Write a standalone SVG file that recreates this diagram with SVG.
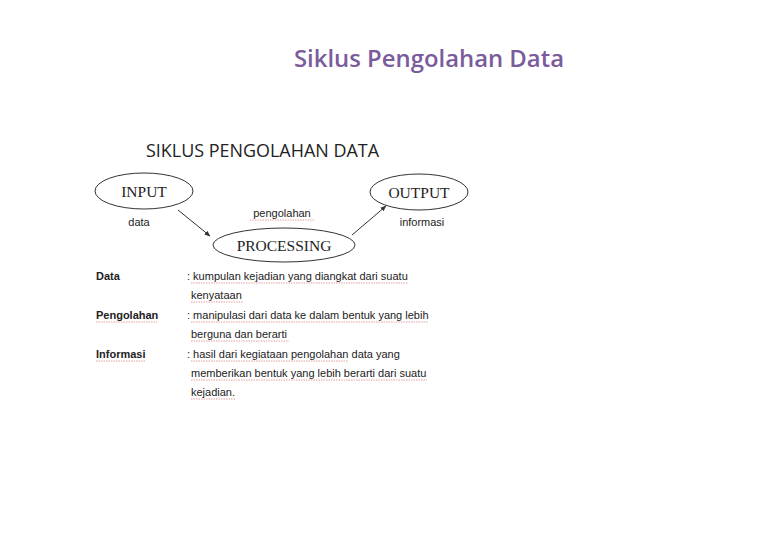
<svg xmlns="http://www.w3.org/2000/svg" width="780" height="540" viewBox="0 0 780 540">
<style>
.t{font-family:"Liberation Sans",Arial,sans-serif;font-size:11px;fill:#222}
.b{font-weight:bold}
.e{fill:none;stroke:#333;stroke-width:1}
.s{font-family:"Liberation Serif","Times New Roman",serif;font-size:15.5px;fill:#222}
.c{stroke:#333;stroke-width:1;fill:none}
.u{stroke:#d88;stroke-width:0.8;stroke-dasharray:1.5 1;fill:none}
</style>
<defs>
<marker id="ah" viewBox="0 0 10 10" refX="9" refY="5" markerWidth="6" markerHeight="6" orient="auto"><path d="M0,1 L10,5 L0,9 z" fill="#333"/></marker>
</defs>
<rect width="780" height="540" fill="#fff"/>
<text x="294" y="67" font-family="'Open Sans',sans-serif" font-size="23" font-weight="600" fill="#7a5c9c" textLength="270" lengthAdjust="spacingAndGlyphs">Siklus Pengolahan Data</text>
<text x="146" y="157" font-family="'Open Sans',sans-serif" font-size="18" fill="#222" textLength="233" lengthAdjust="spacingAndGlyphs">SIKLUS PENGOLAHAN DATA</text>
<g id="input"><ellipse class="e" cx="144" cy="191" rx="49" ry="18"/><text class="s" x="144" y="197" text-anchor="middle">INPUT</text></g>
<g id="output"><ellipse class="e" cx="419" cy="192" rx="49" ry="18"/><text class="s" x="419" y="198" text-anchor="middle">OUTPUT</text></g>
<g id="processing"><ellipse class="e" cx="284" cy="245" rx="71" ry="17"/><text class="s" x="284" y="251" text-anchor="middle">PROCESSING</text></g>
<g id="connectors">
<line class="c" x1="178" y1="210" x2="210" y2="236" marker-end="url(#ah)"/>
<line class="c" x1="352" y1="235" x2="386" y2="206" marker-end="url(#ah)"/>
</g>
<text class="t" x="139" y="226" text-anchor="middle">data</text>
<text class="t" x="282" y="217" text-anchor="middle">pengolahan</text>
<text class="t" x="422" y="226" text-anchor="middle">informasi</text>
<path class="u" d="M250,220 H314"/>
<g id="defs-text">
<text class="t b" x="96" y="280">Data</text>
<text class="t" x="187" y="280">: kumpulan kejadian yang diangkat dari suatu</text>
<text class="t" x="191" y="299">kenyataan</text>
<text class="t b" x="96" y="319">Pengolahan</text>
<text class="t" x="187" y="319">: manipulasi dari data ke dalam bentuk yang lebih</text>
<text class="t" x="191" y="338">berguna dan berarti</text>
<text class="t b" x="96" y="358">Informasi</text>
<text class="t" x="187" y="358">: hasil dari kegiataan pengolahan data yang</text>
<text class="t" x="191" y="377">memberikan bentuk yang lebih berarti dari suatu</text>
<text class="t" x="191" y="396">kejadian.</text>
</g>
<g id="underlines">
<path class="u" d="M191,283 H408"/>
<path class="u" d="M191,302 H243"/>
<path class="u" d="M96,322 H157"/>
<path class="u" d="M191,322 H428"/>
<path class="u" d="M191,341 H289"/>
<path class="u" d="M96,361 H145"/>
<path class="u" d="M191,361 H348"/>
<path class="u" d="M191,380 H427"/>
<path class="u" d="M191,399 H236"/>
</g>
</svg>
